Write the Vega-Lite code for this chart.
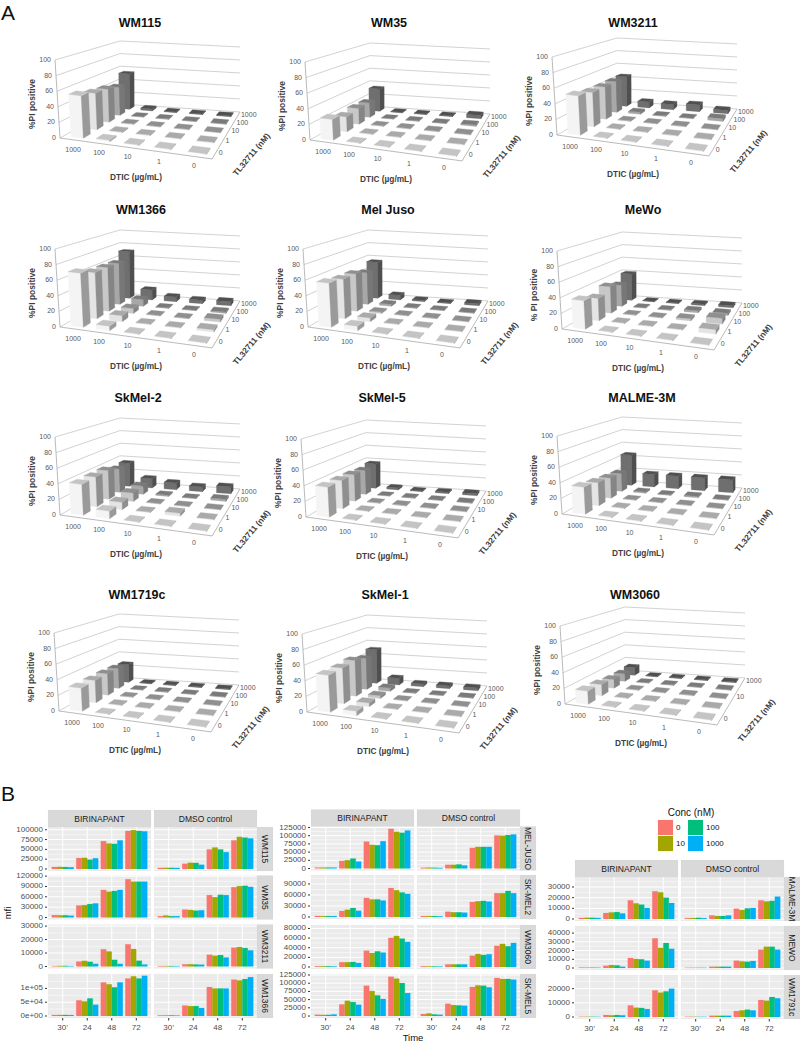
{"padding":0,"width":800,"height":1045,"config":{"font":"Liberation Sans","view":{"stroke":null}},
"data":{"values":[
{"cell":"WM115","dtic":1000,"tl":1000,"pi":54},{"cell":"WM115","dtic":100,"tl":1000,"pi":3},{"cell":"WM115","dtic":10,"tl":1000,"pi":1},{"cell":"WM115","dtic":1,"tl":1000,"pi":1},{"cell":"WM115","dtic":0,"tl":1000,"pi":1},
{"cell":"WM115","dtic":1000,"tl":100,"pi":41},{"cell":"WM115","dtic":100,"tl":100,"pi":1},{"cell":"WM115","dtic":10,"tl":100,"pi":1},{"cell":"WM115","dtic":1,"tl":100,"pi":1},{"cell":"WM115","dtic":0,"tl":100,"pi":1},
{"cell":"WM115","dtic":1000,"tl":10,"pi":46},{"cell":"WM115","dtic":100,"tl":10,"pi":1},{"cell":"WM115","dtic":10,"tl":10,"pi":1},{"cell":"WM115","dtic":1,"tl":10,"pi":1},{"cell":"WM115","dtic":0,"tl":10,"pi":1},
{"cell":"WM115","dtic":1000,"tl":1,"pi":49},{"cell":"WM115","dtic":100,"tl":1,"pi":1},{"cell":"WM115","dtic":10,"tl":1,"pi":1},{"cell":"WM115","dtic":1,"tl":1,"pi":1},{"cell":"WM115","dtic":0,"tl":1,"pi":1},
{"cell":"WM115","dtic":1000,"tl":0,"pi":55},{"cell":"WM115","dtic":100,"tl":0,"pi":2},{"cell":"WM115","dtic":10,"tl":0,"pi":1},{"cell":"WM115","dtic":1,"tl":0,"pi":1},{"cell":"WM115","dtic":0,"tl":0,"pi":1},
{"cell":"WM35","dtic":1000,"tl":1000,"pi":34},{"cell":"WM35","dtic":100,"tl":1000,"pi":1},{"cell":"WM35","dtic":10,"tl":1000,"pi":1},{"cell":"WM35","dtic":1,"tl":1000,"pi":1},{"cell":"WM35","dtic":0,"tl":1000,"pi":5},
{"cell":"WM35","dtic":1000,"tl":100,"pi":21},{"cell":"WM35","dtic":100,"tl":100,"pi":1},{"cell":"WM35","dtic":10,"tl":100,"pi":1},{"cell":"WM35","dtic":1,"tl":100,"pi":1},{"cell":"WM35","dtic":0,"tl":100,"pi":2},
{"cell":"WM35","dtic":1000,"tl":10,"pi":22},{"cell":"WM35","dtic":100,"tl":10,"pi":1},{"cell":"WM35","dtic":10,"tl":10,"pi":1},{"cell":"WM35","dtic":1,"tl":10,"pi":1},{"cell":"WM35","dtic":0,"tl":10,"pi":1},
{"cell":"WM35","dtic":1000,"tl":1,"pi":20},{"cell":"WM35","dtic":100,"tl":1,"pi":1},{"cell":"WM35","dtic":10,"tl":1,"pi":1},{"cell":"WM35","dtic":1,"tl":1,"pi":1},{"cell":"WM35","dtic":0,"tl":1,"pi":1},
{"cell":"WM35","dtic":1000,"tl":0,"pi":27},{"cell":"WM35","dtic":100,"tl":0,"pi":1},{"cell":"WM35","dtic":10,"tl":0,"pi":1},{"cell":"WM35","dtic":1,"tl":0,"pi":1},{"cell":"WM35","dtic":0,"tl":0,"pi":1},
{"cell":"WM3211","dtic":1000,"tl":1000,"pi":45},{"cell":"WM3211","dtic":100,"tl":1000,"pi":9},{"cell":"WM3211","dtic":10,"tl":1000,"pi":8},{"cell":"WM3211","dtic":1,"tl":1000,"pi":10},{"cell":"WM3211","dtic":0,"tl":1000,"pi":5},
{"cell":"WM3211","dtic":1000,"tl":100,"pi":45},{"cell":"WM3211","dtic":100,"tl":100,"pi":3},{"cell":"WM3211","dtic":10,"tl":100,"pi":1},{"cell":"WM3211","dtic":1,"tl":100,"pi":1},{"cell":"WM3211","dtic":0,"tl":100,"pi":4},
{"cell":"WM3211","dtic":1000,"tl":10,"pi":45},{"cell":"WM3211","dtic":100,"tl":10,"pi":1},{"cell":"WM3211","dtic":10,"tl":10,"pi":1},{"cell":"WM3211","dtic":1,"tl":10,"pi":1},{"cell":"WM3211","dtic":0,"tl":10,"pi":1},
{"cell":"WM3211","dtic":1000,"tl":1,"pi":46},{"cell":"WM3211","dtic":100,"tl":1,"pi":1},{"cell":"WM3211","dtic":10,"tl":1,"pi":1},{"cell":"WM3211","dtic":1,"tl":1,"pi":1},{"cell":"WM3211","dtic":0,"tl":1,"pi":1},
{"cell":"WM3211","dtic":1000,"tl":0,"pi":51},{"cell":"WM3211","dtic":100,"tl":0,"pi":1},{"cell":"WM3211","dtic":10,"tl":0,"pi":1},{"cell":"WM3211","dtic":1,"tl":0,"pi":1},{"cell":"WM3211","dtic":0,"tl":0,"pi":1},
{"cell":"WM1366","dtic":1000,"tl":1000,"pi":71},{"cell":"WM1366","dtic":100,"tl":1000,"pi":15},{"cell":"WM1366","dtic":10,"tl":1000,"pi":7},{"cell":"WM1366","dtic":1,"tl":1000,"pi":5},{"cell":"WM1366","dtic":0,"tl":1000,"pi":6},
{"cell":"WM1366","dtic":1000,"tl":100,"pi":60},{"cell":"WM1366","dtic":100,"tl":100,"pi":10},{"cell":"WM1366","dtic":10,"tl":100,"pi":1},{"cell":"WM1366","dtic":1,"tl":100,"pi":1},{"cell":"WM1366","dtic":0,"tl":100,"pi":2},
{"cell":"WM1366","dtic":1000,"tl":10,"pi":61},{"cell":"WM1366","dtic":100,"tl":10,"pi":7},{"cell":"WM1366","dtic":10,"tl":10,"pi":1},{"cell":"WM1366","dtic":1,"tl":10,"pi":1},{"cell":"WM1366","dtic":0,"tl":10,"pi":4},
{"cell":"WM1366","dtic":1000,"tl":1,"pi":62},{"cell":"WM1366","dtic":100,"tl":1,"pi":8},{"cell":"WM1366","dtic":10,"tl":1,"pi":1},{"cell":"WM1366","dtic":1,"tl":1,"pi":1},{"cell":"WM1366","dtic":0,"tl":1,"pi":3},
{"cell":"WM1366","dtic":1000,"tl":0,"pi":70},{"cell":"WM1366","dtic":100,"tl":0,"pi":6},{"cell":"WM1366","dtic":10,"tl":0,"pi":1},{"cell":"WM1366","dtic":1,"tl":0,"pi":1},{"cell":"WM1366","dtic":0,"tl":0,"pi":1},
{"cell":"Mel Juso","dtic":1000,"tl":1000,"pi":55},{"cell":"Mel Juso","dtic":100,"tl":1000,"pi":7},{"cell":"Mel Juso","dtic":10,"tl":1000,"pi":2},{"cell":"Mel Juso","dtic":1,"tl":1000,"pi":1},{"cell":"Mel Juso","dtic":0,"tl":1000,"pi":3},
{"cell":"Mel Juso","dtic":1000,"tl":100,"pi":46},{"cell":"Mel Juso","dtic":100,"tl":100,"pi":3},{"cell":"Mel Juso","dtic":10,"tl":100,"pi":1},{"cell":"Mel Juso","dtic":1,"tl":100,"pi":1},{"cell":"Mel Juso","dtic":0,"tl":100,"pi":1},
{"cell":"Mel Juso","dtic":1000,"tl":10,"pi":52},{"cell":"Mel Juso","dtic":100,"tl":10,"pi":2},{"cell":"Mel Juso","dtic":10,"tl":10,"pi":1},{"cell":"Mel Juso","dtic":1,"tl":10,"pi":1},{"cell":"Mel Juso","dtic":0,"tl":10,"pi":1},
{"cell":"Mel Juso","dtic":1000,"tl":1,"pi":53},{"cell":"Mel Juso","dtic":100,"tl":1,"pi":5},{"cell":"Mel Juso","dtic":10,"tl":1,"pi":1},{"cell":"Mel Juso","dtic":1,"tl":1,"pi":1},{"cell":"Mel Juso","dtic":0,"tl":1,"pi":1},
{"cell":"Mel Juso","dtic":1000,"tl":0,"pi":57},{"cell":"Mel Juso","dtic":100,"tl":0,"pi":6},{"cell":"Mel Juso","dtic":10,"tl":0,"pi":1},{"cell":"Mel Juso","dtic":1,"tl":0,"pi":1},{"cell":"Mel Juso","dtic":0,"tl":0,"pi":1},
{"cell":"MeWo","dtic":1000,"tl":1000,"pi":40},{"cell":"MeWo","dtic":100,"tl":1000,"pi":1},{"cell":"MeWo","dtic":10,"tl":1000,"pi":1},{"cell":"MeWo","dtic":1,"tl":1000,"pi":2},{"cell":"MeWo","dtic":0,"tl":1000,"pi":3},
{"cell":"MeWo","dtic":1000,"tl":100,"pi":31},{"cell":"MeWo","dtic":100,"tl":100,"pi":1},{"cell":"MeWo","dtic":10,"tl":100,"pi":1},{"cell":"MeWo","dtic":1,"tl":100,"pi":3},{"cell":"MeWo","dtic":0,"tl":100,"pi":3},
{"cell":"MeWo","dtic":1000,"tl":10,"pi":37},{"cell":"MeWo","dtic":100,"tl":10,"pi":1},{"cell":"MeWo","dtic":10,"tl":10,"pi":1},{"cell":"MeWo","dtic":1,"tl":10,"pi":3},{"cell":"MeWo","dtic":0,"tl":10,"pi":8},
{"cell":"MeWo","dtic":1000,"tl":1,"pi":30},{"cell":"MeWo","dtic":100,"tl":1,"pi":1},{"cell":"MeWo","dtic":10,"tl":1,"pi":1},{"cell":"MeWo","dtic":1,"tl":1,"pi":1},{"cell":"MeWo","dtic":0,"tl":1,"pi":6},
{"cell":"MeWo","dtic":1000,"tl":0,"pi":37},{"cell":"MeWo","dtic":100,"tl":0,"pi":1},{"cell":"MeWo","dtic":10,"tl":0,"pi":1},{"cell":"MeWo","dtic":1,"tl":0,"pi":1},{"cell":"MeWo","dtic":0,"tl":0,"pi":1},
{"cell":"SkMel-2","dtic":1000,"tl":1000,"pi":35},{"cell":"SkMel-2","dtic":100,"tl":1000,"pi":14},{"cell":"SkMel-2","dtic":10,"tl":1000,"pi":10},{"cell":"SkMel-2","dtic":1,"tl":1000,"pi":7},{"cell":"SkMel-2","dtic":0,"tl":1000,"pi":10},
{"cell":"SkMel-2","dtic":1000,"tl":100,"pi":34},{"cell":"SkMel-2","dtic":100,"tl":100,"pi":12},{"cell":"SkMel-2","dtic":10,"tl":100,"pi":2},{"cell":"SkMel-2","dtic":1,"tl":100,"pi":1},{"cell":"SkMel-2","dtic":0,"tl":100,"pi":3},
{"cell":"SkMel-2","dtic":1000,"tl":10,"pi":40},{"cell":"SkMel-2","dtic":100,"tl":10,"pi":12},{"cell":"SkMel-2","dtic":10,"tl":10,"pi":1},{"cell":"SkMel-2","dtic":1,"tl":10,"pi":1},{"cell":"SkMel-2","dtic":0,"tl":10,"pi":1},
{"cell":"SkMel-2","dtic":1000,"tl":1,"pi":40},{"cell":"SkMel-2","dtic":100,"tl":1,"pi":10},{"cell":"SkMel-2","dtic":10,"tl":1,"pi":1},{"cell":"SkMel-2","dtic":1,"tl":1,"pi":4},{"cell":"SkMel-2","dtic":0,"tl":1,"pi":1},
{"cell":"SkMel-2","dtic":1000,"tl":0,"pi":40},{"cell":"SkMel-2","dtic":100,"tl":0,"pi":10},{"cell":"SkMel-2","dtic":10,"tl":0,"pi":1},{"cell":"SkMel-2","dtic":1,"tl":0,"pi":1},{"cell":"SkMel-2","dtic":0,"tl":0,"pi":1},
{"cell":"SkMel-5","dtic":1000,"tl":1000,"pi":37},{"cell":"SkMel-5","dtic":100,"tl":1000,"pi":3},{"cell":"SkMel-5","dtic":10,"tl":1000,"pi":1},{"cell":"SkMel-5","dtic":1,"tl":1000,"pi":2},{"cell":"SkMel-5","dtic":0,"tl":1000,"pi":3},
{"cell":"SkMel-5","dtic":1000,"tl":100,"pi":35},{"cell":"SkMel-5","dtic":100,"tl":100,"pi":1},{"cell":"SkMel-5","dtic":10,"tl":100,"pi":1},{"cell":"SkMel-5","dtic":1,"tl":100,"pi":1},{"cell":"SkMel-5","dtic":0,"tl":100,"pi":1},
{"cell":"SkMel-5","dtic":1000,"tl":10,"pi":37},{"cell":"SkMel-5","dtic":100,"tl":10,"pi":1},{"cell":"SkMel-5","dtic":10,"tl":10,"pi":1},{"cell":"SkMel-5","dtic":1,"tl":10,"pi":1},{"cell":"SkMel-5","dtic":0,"tl":10,"pi":1},
{"cell":"SkMel-5","dtic":1000,"tl":1,"pi":38},{"cell":"SkMel-5","dtic":100,"tl":1,"pi":1},{"cell":"SkMel-5","dtic":10,"tl":1,"pi":1},{"cell":"SkMel-5","dtic":1,"tl":1,"pi":1},{"cell":"SkMel-5","dtic":0,"tl":1,"pi":1},
{"cell":"SkMel-5","dtic":1000,"tl":0,"pi":39},{"cell":"SkMel-5","dtic":100,"tl":0,"pi":1},{"cell":"SkMel-5","dtic":10,"tl":0,"pi":1},{"cell":"SkMel-5","dtic":1,"tl":0,"pi":1},{"cell":"SkMel-5","dtic":0,"tl":0,"pi":1},
{"cell":"MALME-3M","dtic":1000,"tl":1000,"pi":46},{"cell":"MALME-3M","dtic":100,"tl":1000,"pi":19},{"cell":"MALME-3M","dtic":10,"tl":1000,"pi":19},{"cell":"MALME-3M","dtic":1,"tl":1000,"pi":19},{"cell":"MALME-3M","dtic":0,"tl":1000,"pi":19},
{"cell":"MALME-3M","dtic":1000,"tl":100,"pi":26},{"cell":"MALME-3M","dtic":100,"tl":100,"pi":2},{"cell":"MALME-3M","dtic":10,"tl":100,"pi":1},{"cell":"MALME-3M","dtic":1,"tl":100,"pi":2},{"cell":"MALME-3M","dtic":0,"tl":100,"pi":1},
{"cell":"MALME-3M","dtic":1000,"tl":10,"pi":28},{"cell":"MALME-3M","dtic":100,"tl":10,"pi":1},{"cell":"MALME-3M","dtic":10,"tl":10,"pi":1},{"cell":"MALME-3M","dtic":1,"tl":10,"pi":1},{"cell":"MALME-3M","dtic":0,"tl":10,"pi":1},
{"cell":"MALME-3M","dtic":1000,"tl":1,"pi":31},{"cell":"MALME-3M","dtic":100,"tl":1,"pi":1},{"cell":"MALME-3M","dtic":10,"tl":1,"pi":1},{"cell":"MALME-3M","dtic":1,"tl":1,"pi":1},{"cell":"MALME-3M","dtic":0,"tl":1,"pi":1},
{"cell":"MALME-3M","dtic":1000,"tl":0,"pi":35},{"cell":"MALME-3M","dtic":100,"tl":0,"pi":1},{"cell":"MALME-3M","dtic":10,"tl":0,"pi":1},{"cell":"MALME-3M","dtic":1,"tl":0,"pi":1},{"cell":"MALME-3M","dtic":0,"tl":0,"pi":1},
{"cell":"WM1719c","dtic":1000,"tl":1000,"pi":27},{"cell":"WM1719c","dtic":100,"tl":1000,"pi":1},{"cell":"WM1719c","dtic":10,"tl":1000,"pi":1},{"cell":"WM1719c","dtic":1,"tl":1000,"pi":1},{"cell":"WM1719c","dtic":0,"tl":1000,"pi":1},
{"cell":"WM1719c","dtic":1000,"tl":100,"pi":29},{"cell":"WM1719c","dtic":100,"tl":100,"pi":1},{"cell":"WM1719c","dtic":10,"tl":100,"pi":1},{"cell":"WM1719c","dtic":1,"tl":100,"pi":1},{"cell":"WM1719c","dtic":0,"tl":100,"pi":1},
{"cell":"WM1719c","dtic":1000,"tl":10,"pi":30},{"cell":"WM1719c","dtic":100,"tl":10,"pi":1},{"cell":"WM1719c","dtic":10,"tl":10,"pi":1},{"cell":"WM1719c","dtic":1,"tl":10,"pi":1},{"cell":"WM1719c","dtic":0,"tl":10,"pi":1},
{"cell":"WM1719c","dtic":1000,"tl":1,"pi":30},{"cell":"WM1719c","dtic":100,"tl":1,"pi":1},{"cell":"WM1719c","dtic":10,"tl":1,"pi":1},{"cell":"WM1719c","dtic":1,"tl":1,"pi":1},{"cell":"WM1719c","dtic":0,"tl":1,"pi":1},
{"cell":"WM1719c","dtic":1000,"tl":0,"pi":30},{"cell":"WM1719c","dtic":100,"tl":0,"pi":1},{"cell":"WM1719c","dtic":10,"tl":0,"pi":1},{"cell":"WM1719c","dtic":1,"tl":0,"pi":1},{"cell":"WM1719c","dtic":0,"tl":0,"pi":1},
{"cell":"SkMel-1","dtic":1000,"tl":1000,"pi":51},{"cell":"SkMel-1","dtic":100,"tl":1000,"pi":10},{"cell":"SkMel-1","dtic":10,"tl":1000,"pi":4},{"cell":"SkMel-1","dtic":1,"tl":1000,"pi":4},{"cell":"SkMel-1","dtic":0,"tl":1000,"pi":4},
{"cell":"SkMel-1","dtic":1000,"tl":100,"pi":45},{"cell":"SkMel-1","dtic":100,"tl":100,"pi":5},{"cell":"SkMel-1","dtic":10,"tl":100,"pi":1},{"cell":"SkMel-1","dtic":1,"tl":100,"pi":1},{"cell":"SkMel-1","dtic":0,"tl":100,"pi":1},
{"cell":"SkMel-1","dtic":1000,"tl":10,"pi":50},{"cell":"SkMel-1","dtic":100,"tl":10,"pi":4},{"cell":"SkMel-1","dtic":10,"tl":10,"pi":1},{"cell":"SkMel-1","dtic":1,"tl":10,"pi":1},{"cell":"SkMel-1","dtic":0,"tl":10,"pi":1},
{"cell":"SkMel-1","dtic":1000,"tl":1,"pi":48},{"cell":"SkMel-1","dtic":100,"tl":1,"pi":5},{"cell":"SkMel-1","dtic":10,"tl":1,"pi":1},{"cell":"SkMel-1","dtic":1,"tl":1,"pi":1},{"cell":"SkMel-1","dtic":0,"tl":1,"pi":1},
{"cell":"SkMel-1","dtic":1000,"tl":0,"pi":48},{"cell":"SkMel-1","dtic":100,"tl":0,"pi":6},{"cell":"SkMel-1","dtic":10,"tl":0,"pi":1},{"cell":"SkMel-1","dtic":1,"tl":0,"pi":1},{"cell":"SkMel-1","dtic":0,"tl":0,"pi":1},
{"cell":"WM3060","dtic":1000,"tl":1000,"pi":12},{"cell":"WM3060","dtic":100,"tl":1000,"pi":1},{"cell":"WM3060","dtic":10,"tl":1000,"pi":1},{"cell":"WM3060","dtic":1,"tl":1000,"pi":1},{"cell":"WM3060","dtic":0,"tl":1000,"pi":1},
{"cell":"WM3060","dtic":1000,"tl":100,"pi":11},{"cell":"WM3060","dtic":100,"tl":100,"pi":1},{"cell":"WM3060","dtic":10,"tl":100,"pi":1},{"cell":"WM3060","dtic":1,"tl":100,"pi":1},{"cell":"WM3060","dtic":0,"tl":100,"pi":1},
{"cell":"WM3060","dtic":1000,"tl":10,"pi":12},{"cell":"WM3060","dtic":100,"tl":10,"pi":1},{"cell":"WM3060","dtic":10,"tl":10,"pi":1},{"cell":"WM3060","dtic":1,"tl":10,"pi":1},{"cell":"WM3060","dtic":0,"tl":10,"pi":1},
{"cell":"WM3060","dtic":1000,"tl":1,"pi":15},{"cell":"WM3060","dtic":100,"tl":1,"pi":1},{"cell":"WM3060","dtic":10,"tl":1,"pi":1},{"cell":"WM3060","dtic":1,"tl":1,"pi":1},{"cell":"WM3060","dtic":0,"tl":1,"pi":1},
{"cell":"WM3060","dtic":1000,"tl":0,"pi":17},{"cell":"WM3060","dtic":100,"tl":0,"pi":1},{"cell":"WM3060","dtic":10,"tl":0,"pi":1},{"cell":"WM3060","dtic":1,"tl":0,"pi":1},{"cell":"WM3060","dtic":0,"tl":0,"pi":1},
{"cell":"WM115","drug":"BIRINAPANT","hour":"30’","conc":0,"mfi":5200},{"cell":"WM115","drug":"BIRINAPANT","hour":"30’","conc":10,"mfi":5500},{"cell":"WM115","drug":"BIRINAPANT","hour":"30’","conc":100,"mfi":5000},{"cell":"WM115","drug":"BIRINAPANT","hour":"30’","conc":1000,"mfi":4500},
{"cell":"WM115","drug":"BIRINAPANT","hour":"24","conc":0,"mfi":28000},{"cell":"WM115","drug":"BIRINAPANT","hour":"24","conc":10,"mfi":28500},{"cell":"WM115","drug":"BIRINAPANT","hour":"24","conc":100,"mfi":24000},{"cell":"WM115","drug":"BIRINAPANT","hour":"24","conc":1000,"mfi":27500},
{"cell":"WM115","drug":"BIRINAPANT","hour":"48","conc":0,"mfi":71000},{"cell":"WM115","drug":"BIRINAPANT","hour":"48","conc":10,"mfi":65000},{"cell":"WM115","drug":"BIRINAPANT","hour":"48","conc":100,"mfi":64000},{"cell":"WM115","drug":"BIRINAPANT","hour":"48","conc":1000,"mfi":73000},
{"cell":"WM115","drug":"BIRINAPANT","hour":"72","conc":0,"mfi":97000},{"cell":"WM115","drug":"BIRINAPANT","hour":"72","conc":10,"mfi":99000},{"cell":"WM115","drug":"BIRINAPANT","hour":"72","conc":100,"mfi":97000},{"cell":"WM115","drug":"BIRINAPANT","hour":"72","conc":1000,"mfi":96000},
{"cell":"WM115","drug":"DMSO control","hour":"30’","conc":0,"mfi":3000},{"cell":"WM115","drug":"DMSO control","hour":"30’","conc":10,"mfi":3000},{"cell":"WM115","drug":"DMSO control","hour":"30’","conc":100,"mfi":3000},{"cell":"WM115","drug":"DMSO control","hour":"30’","conc":1000,"mfi":2800},
{"cell":"WM115","drug":"DMSO control","hour":"24","conc":0,"mfi":13500},{"cell":"WM115","drug":"DMSO control","hour":"24","conc":10,"mfi":16000},{"cell":"WM115","drug":"DMSO control","hour":"24","conc":100,"mfi":15500},{"cell":"WM115","drug":"DMSO control","hour":"24","conc":1000,"mfi":11000},
{"cell":"WM115","drug":"DMSO control","hour":"48","conc":0,"mfi":50000},{"cell":"WM115","drug":"DMSO control","hour":"48","conc":10,"mfi":55000},{"cell":"WM115","drug":"DMSO control","hour":"48","conc":100,"mfi":50000},{"cell":"WM115","drug":"DMSO control","hour":"48","conc":1000,"mfi":43000},
{"cell":"WM115","drug":"DMSO control","hour":"72","conc":0,"mfi":73000},{"cell":"WM115","drug":"DMSO control","hour":"72","conc":10,"mfi":82000},{"cell":"WM115","drug":"DMSO control","hour":"72","conc":100,"mfi":80000},{"cell":"WM115","drug":"DMSO control","hour":"72","conc":1000,"mfi":78000},
{"cell":"WM35","drug":"BIRINAPANT","hour":"30’","conc":0,"mfi":7000},{"cell":"WM35","drug":"BIRINAPANT","hour":"30’","conc":10,"mfi":6500},{"cell":"WM35","drug":"BIRINAPANT","hour":"30’","conc":100,"mfi":6500},{"cell":"WM35","drug":"BIRINAPANT","hour":"30’","conc":1000,"mfi":5500},
{"cell":"WM35","drug":"BIRINAPANT","hour":"24","conc":0,"mfi":35000},{"cell":"WM35","drug":"BIRINAPANT","hour":"24","conc":10,"mfi":36000},{"cell":"WM35","drug":"BIRINAPANT","hour":"24","conc":100,"mfi":39000},{"cell":"WM35","drug":"BIRINAPANT","hour":"24","conc":1000,"mfi":41000},
{"cell":"WM35","drug":"BIRINAPANT","hour":"48","conc":0,"mfi":80000},{"cell":"WM35","drug":"BIRINAPANT","hour":"48","conc":10,"mfi":75000},{"cell":"WM35","drug":"BIRINAPANT","hour":"48","conc":100,"mfi":77000},{"cell":"WM35","drug":"BIRINAPANT","hour":"48","conc":1000,"mfi":80000},
{"cell":"WM35","drug":"BIRINAPANT","hour":"72","conc":0,"mfi":111000},{"cell":"WM35","drug":"BIRINAPANT","hour":"72","conc":10,"mfi":104000},{"cell":"WM35","drug":"BIRINAPANT","hour":"72","conc":100,"mfi":104000},{"cell":"WM35","drug":"BIRINAPANT","hour":"72","conc":1000,"mfi":104000},
{"cell":"WM35","drug":"DMSO control","hour":"30’","conc":0,"mfi":4000},{"cell":"WM35","drug":"DMSO control","hour":"30’","conc":10,"mfi":6000},{"cell":"WM35","drug":"DMSO control","hour":"30’","conc":100,"mfi":4000},{"cell":"WM35","drug":"DMSO control","hour":"30’","conc":1000,"mfi":4000},
{"cell":"WM35","drug":"DMSO control","hour":"24","conc":0,"mfi":23000},{"cell":"WM35","drug":"DMSO control","hour":"24","conc":10,"mfi":22000},{"cell":"WM35","drug":"DMSO control","hour":"24","conc":100,"mfi":20000},{"cell":"WM35","drug":"DMSO control","hour":"24","conc":1000,"mfi":21000},
{"cell":"WM35","drug":"DMSO control","hour":"48","conc":0,"mfi":65000},{"cell":"WM35","drug":"DMSO control","hour":"48","conc":10,"mfi":59000},{"cell":"WM35","drug":"DMSO control","hour":"48","conc":100,"mfi":66000},{"cell":"WM35","drug":"DMSO control","hour":"48","conc":1000,"mfi":65000},
{"cell":"WM35","drug":"DMSO control","hour":"72","conc":0,"mfi":88000},{"cell":"WM35","drug":"DMSO control","hour":"72","conc":10,"mfi":91000},{"cell":"WM35","drug":"DMSO control","hour":"72","conc":100,"mfi":92000},{"cell":"WM35","drug":"DMSO control","hour":"72","conc":1000,"mfi":89000},
{"cell":"WM3211","drug":"BIRINAPANT","hour":"30’","conc":0,"mfi":300},{"cell":"WM3211","drug":"BIRINAPANT","hour":"30’","conc":10,"mfi":500},{"cell":"WM3211","drug":"BIRINAPANT","hour":"30’","conc":100,"mfi":500},{"cell":"WM3211","drug":"BIRINAPANT","hour":"30’","conc":1000,"mfi":300},
{"cell":"WM3211","drug":"BIRINAPANT","hour":"24","conc":0,"mfi":3700},{"cell":"WM3211","drug":"BIRINAPANT","hour":"24","conc":10,"mfi":4200},{"cell":"WM3211","drug":"BIRINAPANT","hour":"24","conc":100,"mfi":3500},{"cell":"WM3211","drug":"BIRINAPANT","hour":"24","conc":1000,"mfi":2000},
{"cell":"WM3211","drug":"BIRINAPANT","hour":"48","conc":0,"mfi":12800},{"cell":"WM3211","drug":"BIRINAPANT","hour":"48","conc":10,"mfi":11200},{"cell":"WM3211","drug":"BIRINAPANT","hour":"48","conc":100,"mfi":5000},{"cell":"WM3211","drug":"BIRINAPANT","hour":"48","conc":1000,"mfi":2000},
{"cell":"WM3211","drug":"BIRINAPANT","hour":"72","conc":0,"mfi":16500},{"cell":"WM3211","drug":"BIRINAPANT","hour":"72","conc":10,"mfi":13000},{"cell":"WM3211","drug":"BIRINAPANT","hour":"72","conc":100,"mfi":4300},{"cell":"WM3211","drug":"BIRINAPANT","hour":"72","conc":1000,"mfi":1500},
{"cell":"WM3211","drug":"DMSO control","hour":"30’","conc":0,"mfi":400},{"cell":"WM3211","drug":"DMSO control","hour":"30’","conc":10,"mfi":400},{"cell":"WM3211","drug":"DMSO control","hour":"30’","conc":100,"mfi":400},{"cell":"WM3211","drug":"DMSO control","hour":"30’","conc":1000,"mfi":300},
{"cell":"WM3211","drug":"DMSO control","hour":"24","conc":0,"mfi":1600},{"cell":"WM3211","drug":"DMSO control","hour":"24","conc":10,"mfi":1700},{"cell":"WM3211","drug":"DMSO control","hour":"24","conc":100,"mfi":1500},{"cell":"WM3211","drug":"DMSO control","hour":"24","conc":1000,"mfi":1400},
{"cell":"WM3211","drug":"DMSO control","hour":"48","conc":0,"mfi":8800},{"cell":"WM3211","drug":"DMSO control","hour":"48","conc":10,"mfi":8000},{"cell":"WM3211","drug":"DMSO control","hour":"48","conc":100,"mfi":8500},{"cell":"WM3211","drug":"DMSO control","hour":"48","conc":1000,"mfi":6700},
{"cell":"WM3211","drug":"DMSO control","hour":"72","conc":0,"mfi":14000},{"cell":"WM3211","drug":"DMSO control","hour":"72","conc":10,"mfi":14500},{"cell":"WM3211","drug":"DMSO control","hour":"72","conc":100,"mfi":13700},{"cell":"WM3211","drug":"DMSO control","hour":"72","conc":1000,"mfi":12000},
{"cell":"WM1366","drug":"BIRINAPANT","hour":"30’","conc":0,"mfi":4000},{"cell":"WM1366","drug":"BIRINAPANT","hour":"30’","conc":10,"mfi":4000},{"cell":"WM1366","drug":"BIRINAPANT","hour":"30’","conc":100,"mfi":4000},{"cell":"WM1366","drug":"BIRINAPANT","hour":"30’","conc":1000,"mfi":3500},
{"cell":"WM1366","drug":"BIRINAPANT","hour":"24","conc":0,"mfi":57000},{"cell":"WM1366","drug":"BIRINAPANT","hour":"24","conc":10,"mfi":53000},{"cell":"WM1366","drug":"BIRINAPANT","hour":"24","conc":100,"mfi":64000},{"cell":"WM1366","drug":"BIRINAPANT","hour":"24","conc":1000,"mfi":41000},
{"cell":"WM1366","drug":"BIRINAPANT","hour":"48","conc":0,"mfi":122000},{"cell":"WM1366","drug":"BIRINAPANT","hour":"48","conc":10,"mfi":115000},{"cell":"WM1366","drug":"BIRINAPANT","hour":"48","conc":100,"mfi":104000},{"cell":"WM1366","drug":"BIRINAPANT","hour":"48","conc":1000,"mfi":122000},
{"cell":"WM1366","drug":"BIRINAPANT","hour":"72","conc":0,"mfi":136000},{"cell":"WM1366","drug":"BIRINAPANT","hour":"72","conc":10,"mfi":144000},{"cell":"WM1366","drug":"BIRINAPANT","hour":"72","conc":100,"mfi":136000},{"cell":"WM1366","drug":"BIRINAPANT","hour":"72","conc":1000,"mfi":146000},
{"cell":"WM1366","drug":"DMSO control","hour":"30’","conc":0,"mfi":2500},{"cell":"WM1366","drug":"DMSO control","hour":"30’","conc":10,"mfi":2500},{"cell":"WM1366","drug":"DMSO control","hour":"30’","conc":100,"mfi":2500},{"cell":"WM1366","drug":"DMSO control","hour":"30’","conc":1000,"mfi":2000},
{"cell":"WM1366","drug":"DMSO control","hour":"24","conc":0,"mfi":38000},{"cell":"WM1366","drug":"DMSO control","hour":"24","conc":10,"mfi":36000},{"cell":"WM1366","drug":"DMSO control","hour":"24","conc":100,"mfi":36000},{"cell":"WM1366","drug":"DMSO control","hour":"24","conc":1000,"mfi":29000},
{"cell":"WM1366","drug":"DMSO control","hour":"48","conc":0,"mfi":105000},{"cell":"WM1366","drug":"DMSO control","hour":"48","conc":10,"mfi":100000},{"cell":"WM1366","drug":"DMSO control","hour":"48","conc":100,"mfi":100000},{"cell":"WM1366","drug":"DMSO control","hour":"48","conc":1000,"mfi":100000},
{"cell":"WM1366","drug":"DMSO control","hour":"72","conc":0,"mfi":132000},{"cell":"WM1366","drug":"DMSO control","hour":"72","conc":10,"mfi":129000},{"cell":"WM1366","drug":"DMSO control","hour":"72","conc":100,"mfi":134000},{"cell":"WM1366","drug":"DMSO control","hour":"72","conc":1000,"mfi":141000},
{"cell":"MEL-JUSO","drug":"BIRINAPANT","hour":"30’","conc":0,"mfi":3000},{"cell":"MEL-JUSO","drug":"BIRINAPANT","hour":"30’","conc":10,"mfi":3000},{"cell":"MEL-JUSO","drug":"BIRINAPANT","hour":"30’","conc":100,"mfi":3000},{"cell":"MEL-JUSO","drug":"BIRINAPANT","hour":"30’","conc":1000,"mfi":3000},
{"cell":"MEL-JUSO","drug":"BIRINAPANT","hour":"24","conc":0,"mfi":23400},{"cell":"MEL-JUSO","drug":"BIRINAPANT","hour":"24","conc":10,"mfi":25400},{"cell":"MEL-JUSO","drug":"BIRINAPANT","hour":"24","conc":100,"mfi":30500},{"cell":"MEL-JUSO","drug":"BIRINAPANT","hour":"24","conc":1000,"mfi":21300},
{"cell":"MEL-JUSO","drug":"BIRINAPANT","hour":"48","conc":0,"mfi":82300},{"cell":"MEL-JUSO","drug":"BIRINAPANT","hour":"48","conc":10,"mfi":72200},{"cell":"MEL-JUSO","drug":"BIRINAPANT","hour":"48","conc":100,"mfi":71100},{"cell":"MEL-JUSO","drug":"BIRINAPANT","hour":"48","conc":1000,"mfi":83300},
{"cell":"MEL-JUSO","drug":"BIRINAPANT","hour":"72","conc":0,"mfi":121000},{"cell":"MEL-JUSO","drug":"BIRINAPANT","hour":"72","conc":10,"mfi":112000},{"cell":"MEL-JUSO","drug":"BIRINAPANT","hour":"72","conc":100,"mfi":109000},{"cell":"MEL-JUSO","drug":"BIRINAPANT","hour":"72","conc":1000,"mfi":116000},
{"cell":"MEL-JUSO","drug":"DMSO control","hour":"30’","conc":0,"mfi":2500},{"cell":"MEL-JUSO","drug":"DMSO control","hour":"30’","conc":10,"mfi":3000},{"cell":"MEL-JUSO","drug":"DMSO control","hour":"30’","conc":100,"mfi":2500},{"cell":"MEL-JUSO","drug":"DMSO control","hour":"30’","conc":1000,"mfi":2000},
{"cell":"MEL-JUSO","drug":"DMSO control","hour":"24","conc":0,"mfi":11500},{"cell":"MEL-JUSO","drug":"DMSO control","hour":"24","conc":10,"mfi":11500},{"cell":"MEL-JUSO","drug":"DMSO control","hour":"24","conc":100,"mfi":12500},{"cell":"MEL-JUSO","drug":"DMSO control","hour":"24","conc":1000,"mfi":9500},
{"cell":"MEL-JUSO","drug":"DMSO control","hour":"48","conc":0,"mfi":63000},{"cell":"MEL-JUSO","drug":"DMSO control","hour":"48","conc":10,"mfi":66000},{"cell":"MEL-JUSO","drug":"DMSO control","hour":"48","conc":100,"mfi":66000},{"cell":"MEL-JUSO","drug":"DMSO control","hour":"48","conc":1000,"mfi":66000},
{"cell":"MEL-JUSO","drug":"DMSO control","hour":"72","conc":0,"mfi":101000},{"cell":"MEL-JUSO","drug":"DMSO control","hour":"72","conc":10,"mfi":100000},{"cell":"MEL-JUSO","drug":"DMSO control","hour":"72","conc":100,"mfi":102000},{"cell":"MEL-JUSO","drug":"DMSO control","hour":"72","conc":1000,"mfi":104000},
{"cell":"SK-MEL2","drug":"BIRINAPANT","hour":"30’","conc":0,"mfi":3000},{"cell":"SK-MEL2","drug":"BIRINAPANT","hour":"30’","conc":10,"mfi":2500},{"cell":"SK-MEL2","drug":"BIRINAPANT","hour":"30’","conc":100,"mfi":2500},{"cell":"SK-MEL2","drug":"BIRINAPANT","hour":"30’","conc":1000,"mfi":2500},
{"cell":"SK-MEL2","drug":"BIRINAPANT","hour":"24","conc":0,"mfi":16500},{"cell":"SK-MEL2","drug":"BIRINAPANT","hour":"24","conc":10,"mfi":20000},{"cell":"SK-MEL2","drug":"BIRINAPANT","hour":"24","conc":100,"mfi":24500},{"cell":"SK-MEL2","drug":"BIRINAPANT","hour":"24","conc":1000,"mfi":17000},
{"cell":"SK-MEL2","drug":"BIRINAPANT","hour":"48","conc":0,"mfi":52000},{"cell":"SK-MEL2","drug":"BIRINAPANT","hour":"48","conc":10,"mfi":48000},{"cell":"SK-MEL2","drug":"BIRINAPANT","hour":"48","conc":100,"mfi":48000},{"cell":"SK-MEL2","drug":"BIRINAPANT","hour":"48","conc":1000,"mfi":45000},
{"cell":"SK-MEL2","drug":"BIRINAPANT","hour":"72","conc":0,"mfi":79000},{"cell":"SK-MEL2","drug":"BIRINAPANT","hour":"72","conc":10,"mfi":73000},{"cell":"SK-MEL2","drug":"BIRINAPANT","hour":"72","conc":100,"mfi":67000},{"cell":"SK-MEL2","drug":"BIRINAPANT","hour":"72","conc":1000,"mfi":63000},
{"cell":"SK-MEL2","drug":"DMSO control","hour":"30’","conc":0,"mfi":2500},{"cell":"SK-MEL2","drug":"DMSO control","hour":"30’","conc":10,"mfi":2500},{"cell":"SK-MEL2","drug":"DMSO control","hour":"30’","conc":100,"mfi":2500},{"cell":"SK-MEL2","drug":"DMSO control","hour":"30’","conc":1000,"mfi":2000},
{"cell":"SK-MEL2","drug":"DMSO control","hour":"24","conc":0,"mfi":14500},{"cell":"SK-MEL2","drug":"DMSO control","hour":"24","conc":10,"mfi":13000},{"cell":"SK-MEL2","drug":"DMSO control","hour":"24","conc":100,"mfi":13000},{"cell":"SK-MEL2","drug":"DMSO control","hour":"24","conc":1000,"mfi":12000},
{"cell":"SK-MEL2","drug":"DMSO control","hour":"48","conc":0,"mfi":41000},{"cell":"SK-MEL2","drug":"DMSO control","hour":"48","conc":10,"mfi":43000},{"cell":"SK-MEL2","drug":"DMSO control","hour":"48","conc":100,"mfi":44000},{"cell":"SK-MEL2","drug":"DMSO control","hour":"48","conc":1000,"mfi":42000},
{"cell":"SK-MEL2","drug":"DMSO control","hour":"72","conc":0,"mfi":65000},{"cell":"SK-MEL2","drug":"DMSO control","hour":"72","conc":10,"mfi":65000},{"cell":"SK-MEL2","drug":"DMSO control","hour":"72","conc":100,"mfi":71000},{"cell":"SK-MEL2","drug":"DMSO control","hour":"72","conc":1000,"mfi":65000},
{"cell":"WM3060","drug":"BIRINAPANT","hour":"30’","conc":0,"mfi":1500},{"cell":"WM3060","drug":"BIRINAPANT","hour":"30’","conc":10,"mfi":1500},{"cell":"WM3060","drug":"BIRINAPANT","hour":"30’","conc":100,"mfi":1500},{"cell":"WM3060","drug":"BIRINAPANT","hour":"30’","conc":1000,"mfi":1200},
{"cell":"WM3060","drug":"BIRINAPANT","hour":"24","conc":0,"mfi":10000},{"cell":"WM3060","drug":"BIRINAPANT","hour":"24","conc":10,"mfi":10000},{"cell":"WM3060","drug":"BIRINAPANT","hour":"24","conc":100,"mfi":10500},{"cell":"WM3060","drug":"BIRINAPANT","hour":"24","conc":1000,"mfi":8500},
{"cell":"WM3060","drug":"BIRINAPANT","hour":"48","conc":0,"mfi":34000},{"cell":"WM3060","drug":"BIRINAPANT","hour":"48","conc":10,"mfi":29000},{"cell":"WM3060","drug":"BIRINAPANT","hour":"48","conc":100,"mfi":32500},{"cell":"WM3060","drug":"BIRINAPANT","hour":"48","conc":1000,"mfi":30000},
{"cell":"WM3060","drug":"BIRINAPANT","hour":"72","conc":0,"mfi":60500},{"cell":"WM3060","drug":"BIRINAPANT","hour":"72","conc":10,"mfi":64500},{"cell":"WM3060","drug":"BIRINAPANT","hour":"72","conc":100,"mfi":59000},{"cell":"WM3060","drug":"BIRINAPANT","hour":"72","conc":1000,"mfi":52000},
{"cell":"WM3060","drug":"DMSO control","hour":"30’","conc":0,"mfi":1500},{"cell":"WM3060","drug":"DMSO control","hour":"30’","conc":10,"mfi":1200},{"cell":"WM3060","drug":"DMSO control","hour":"30’","conc":100,"mfi":1200},{"cell":"WM3060","drug":"DMSO control","hour":"30’","conc":1000,"mfi":1000},
{"cell":"WM3060","drug":"DMSO control","hour":"24","conc":0,"mfi":5500},{"cell":"WM3060","drug":"DMSO control","hour":"24","conc":10,"mfi":5500},{"cell":"WM3060","drug":"DMSO control","hour":"24","conc":100,"mfi":5500},{"cell":"WM3060","drug":"DMSO control","hour":"24","conc":1000,"mfi":5500},
{"cell":"WM3060","drug":"DMSO control","hour":"48","conc":0,"mfi":23500},{"cell":"WM3060","drug":"DMSO control","hour":"48","conc":10,"mfi":27000},{"cell":"WM3060","drug":"DMSO control","hour":"48","conc":100,"mfi":25000},{"cell":"WM3060","drug":"DMSO control","hour":"48","conc":1000,"mfi":26500},
{"cell":"WM3060","drug":"DMSO control","hour":"72","conc":0,"mfi":44000},{"cell":"WM3060","drug":"DMSO control","hour":"72","conc":10,"mfi":48000},{"cell":"WM3060","drug":"DMSO control","hour":"72","conc":100,"mfi":43000},{"cell":"WM3060","drug":"DMSO control","hour":"72","conc":1000,"mfi":50000},
{"cell":"SK-MEL5","drug":"BIRINAPANT","hour":"30’","conc":0,"mfi":4000},{"cell":"SK-MEL5","drug":"BIRINAPANT","hour":"30’","conc":10,"mfi":3500},{"cell":"SK-MEL5","drug":"BIRINAPANT","hour":"30’","conc":100,"mfi":3500},{"cell":"SK-MEL5","drug":"BIRINAPANT","hour":"30’","conc":1000,"mfi":5000},
{"cell":"SK-MEL5","drug":"BIRINAPANT","hour":"24","conc":0,"mfi":35500},{"cell":"SK-MEL5","drug":"BIRINAPANT","hour":"24","conc":10,"mfi":46500},{"cell":"SK-MEL5","drug":"BIRINAPANT","hour":"24","conc":100,"mfi":42500},{"cell":"SK-MEL5","drug":"BIRINAPANT","hour":"24","conc":1000,"mfi":34500},
{"cell":"SK-MEL5","drug":"BIRINAPANT","hour":"48","conc":0,"mfi":92500},{"cell":"SK-MEL5","drug":"BIRINAPANT","hour":"48","conc":10,"mfi":76000},{"cell":"SK-MEL5","drug":"BIRINAPANT","hour":"48","conc":100,"mfi":63000},{"cell":"SK-MEL5","drug":"BIRINAPANT","hour":"48","conc":1000,"mfi":52000},
{"cell":"SK-MEL5","drug":"BIRINAPANT","hour":"72","conc":0,"mfi":120000},{"cell":"SK-MEL5","drug":"BIRINAPANT","hour":"72","conc":10,"mfi":114000},{"cell":"SK-MEL5","drug":"BIRINAPANT","hour":"72","conc":100,"mfi":100500},{"cell":"SK-MEL5","drug":"BIRINAPANT","hour":"72","conc":1000,"mfi":70000},
{"cell":"SK-MEL5","drug":"DMSO control","hour":"30’","conc":0,"mfi":6000},{"cell":"SK-MEL5","drug":"DMSO control","hour":"30’","conc":10,"mfi":8000},{"cell":"SK-MEL5","drug":"DMSO control","hour":"30’","conc":100,"mfi":5000},{"cell":"SK-MEL5","drug":"DMSO control","hour":"30’","conc":1000,"mfi":4000},
{"cell":"SK-MEL5","drug":"DMSO control","hour":"24","conc":0,"mfi":37500},{"cell":"SK-MEL5","drug":"DMSO control","hour":"24","conc":10,"mfi":33500},{"cell":"SK-MEL5","drug":"DMSO control","hour":"24","conc":100,"mfi":32500},{"cell":"SK-MEL5","drug":"DMSO control","hour":"24","conc":1000,"mfi":31500},
{"cell":"SK-MEL5","drug":"DMSO control","hour":"48","conc":0,"mfi":88500},{"cell":"SK-MEL5","drug":"DMSO control","hour":"48","conc":10,"mfi":93500},{"cell":"SK-MEL5","drug":"DMSO control","hour":"48","conc":100,"mfi":92500},{"cell":"SK-MEL5","drug":"DMSO control","hour":"48","conc":1000,"mfi":87500},
{"cell":"SK-MEL5","drug":"DMSO control","hour":"72","conc":0,"mfi":116000},{"cell":"SK-MEL5","drug":"DMSO control","hour":"72","conc":10,"mfi":113000},{"cell":"SK-MEL5","drug":"DMSO control","hour":"72","conc":100,"mfi":113000},{"cell":"SK-MEL5","drug":"DMSO control","hour":"72","conc":1000,"mfi":111000},
{"cell":"MALME-3M","drug":"BIRINAPANT","hour":"30’","conc":0,"mfi":1000},{"cell":"MALME-3M","drug":"BIRINAPANT","hour":"30’","conc":10,"mfi":1200},{"cell":"MALME-3M","drug":"BIRINAPANT","hour":"30’","conc":100,"mfi":1200},{"cell":"MALME-3M","drug":"BIRINAPANT","hour":"30’","conc":1000,"mfi":1000},
{"cell":"MALME-3M","drug":"BIRINAPANT","hour":"24","conc":0,"mfi":5600},{"cell":"MALME-3M","drug":"BIRINAPANT","hour":"24","conc":10,"mfi":6200},{"cell":"MALME-3M","drug":"BIRINAPANT","hour":"24","conc":100,"mfi":6500},{"cell":"MALME-3M","drug":"BIRINAPANT","hour":"24","conc":1000,"mfi":5300},
{"cell":"MALME-3M","drug":"BIRINAPANT","hour":"48","conc":0,"mfi":17500},{"cell":"MALME-3M","drug":"BIRINAPANT","hour":"48","conc":10,"mfi":14700},{"cell":"MALME-3M","drug":"BIRINAPANT","hour":"48","conc":100,"mfi":13500},{"cell":"MALME-3M","drug":"BIRINAPANT","hour":"48","conc":1000,"mfi":10300},
{"cell":"MALME-3M","drug":"BIRINAPANT","hour":"72","conc":0,"mfi":26000},{"cell":"MALME-3M","drug":"BIRINAPANT","hour":"72","conc":10,"mfi":25000},{"cell":"MALME-3M","drug":"BIRINAPANT","hour":"72","conc":100,"mfi":20000},{"cell":"MALME-3M","drug":"BIRINAPANT","hour":"72","conc":1000,"mfi":15000},
{"cell":"MALME-3M","drug":"DMSO control","hour":"30’","conc":0,"mfi":800},{"cell":"MALME-3M","drug":"DMSO control","hour":"30’","conc":10,"mfi":900},{"cell":"MALME-3M","drug":"DMSO control","hour":"30’","conc":100,"mfi":1100},{"cell":"MALME-3M","drug":"DMSO control","hour":"30’","conc":1000,"mfi":800},
{"cell":"MALME-3M","drug":"DMSO control","hour":"24","conc":0,"mfi":3400},{"cell":"MALME-3M","drug":"DMSO control","hour":"24","conc":10,"mfi":2800},{"cell":"MALME-3M","drug":"DMSO control","hour":"24","conc":100,"mfi":2800},{"cell":"MALME-3M","drug":"DMSO control","hour":"24","conc":1000,"mfi":3400},
{"cell":"MALME-3M","drug":"DMSO control","hour":"48","conc":0,"mfi":9700},{"cell":"MALME-3M","drug":"DMSO control","hour":"48","conc":10,"mfi":8400},{"cell":"MALME-3M","drug":"DMSO control","hour":"48","conc":100,"mfi":10000},{"cell":"MALME-3M","drug":"DMSO control","hour":"48","conc":1000,"mfi":10300},
{"cell":"MALME-3M","drug":"DMSO control","hour":"72","conc":0,"mfi":17500},{"cell":"MALME-3M","drug":"DMSO control","hour":"72","conc":10,"mfi":16500},{"cell":"MALME-3M","drug":"DMSO control","hour":"72","conc":100,"mfi":17000},{"cell":"MALME-3M","drug":"DMSO control","hour":"72","conc":1000,"mfi":21000},
{"cell":"MEWO","drug":"BIRINAPANT","hour":"30’","conc":0,"mfi":600},{"cell":"MEWO","drug":"BIRINAPANT","hour":"30’","conc":10,"mfi":500},{"cell":"MEWO","drug":"BIRINAPANT","hour":"30’","conc":100,"mfi":500},{"cell":"MEWO","drug":"BIRINAPANT","hour":"30’","conc":1000,"mfi":400},
{"cell":"MEWO","drug":"BIRINAPANT","hour":"24","conc":0,"mfi":2600},{"cell":"MEWO","drug":"BIRINAPANT","hour":"24","conc":10,"mfi":3400},{"cell":"MEWO","drug":"BIRINAPANT","hour":"24","conc":100,"mfi":3000},{"cell":"MEWO","drug":"BIRINAPANT","hour":"24","conc":1000,"mfi":1500},
{"cell":"MEWO","drug":"BIRINAPANT","hour":"48","conc":0,"mfi":11500},{"cell":"MEWO","drug":"BIRINAPANT","hour":"48","conc":10,"mfi":10300},{"cell":"MEWO","drug":"BIRINAPANT","hour":"48","conc":100,"mfi":10000},{"cell":"MEWO","drug":"BIRINAPANT","hour":"48","conc":1000,"mfi":8400},
{"cell":"MEWO","drug":"BIRINAPANT","hour":"72","conc":0,"mfi":34000},{"cell":"MEWO","drug":"BIRINAPANT","hour":"72","conc":10,"mfi":23000},{"cell":"MEWO","drug":"BIRINAPANT","hour":"72","conc":100,"mfi":28600},{"cell":"MEWO","drug":"BIRINAPANT","hour":"72","conc":1000,"mfi":22000},
{"cell":"MEWO","drug":"DMSO control","hour":"30’","conc":0,"mfi":300},{"cell":"MEWO","drug":"DMSO control","hour":"30’","conc":10,"mfi":300},{"cell":"MEWO","drug":"DMSO control","hour":"30’","conc":100,"mfi":300},{"cell":"MEWO","drug":"DMSO control","hour":"30’","conc":1000,"mfi":300},
{"cell":"MEWO","drug":"DMSO control","hour":"24","conc":0,"mfi":1500},{"cell":"MEWO","drug":"DMSO control","hour":"24","conc":10,"mfi":1500},{"cell":"MEWO","drug":"DMSO control","hour":"24","conc":100,"mfi":1500},{"cell":"MEWO","drug":"DMSO control","hour":"24","conc":1000,"mfi":1500},
{"cell":"MEWO","drug":"DMSO control","hour":"48","conc":0,"mfi":8400},{"cell":"MEWO","drug":"DMSO control","hour":"48","conc":10,"mfi":7600},{"cell":"MEWO","drug":"DMSO control","hour":"48","conc":100,"mfi":7200},{"cell":"MEWO","drug":"DMSO control","hour":"48","conc":1000,"mfi":8000},
{"cell":"MEWO","drug":"DMSO control","hour":"72","conc":0,"mfi":21000},{"cell":"MEWO","drug":"DMSO control","hour":"72","conc":10,"mfi":24400},{"cell":"MEWO","drug":"DMSO control","hour":"72","conc":100,"mfi":24400},{"cell":"MEWO","drug":"DMSO control","hour":"72","conc":1000,"mfi":21000},
{"cell":"WM1791c","drug":"BIRINAPANT","hour":"30’","conc":0,"mfi":200},{"cell":"WM1791c","drug":"BIRINAPANT","hour":"30’","conc":10,"mfi":200},{"cell":"WM1791c","drug":"BIRINAPANT","hour":"30’","conc":100,"mfi":200},{"cell":"WM1791c","drug":"BIRINAPANT","hour":"30’","conc":1000,"mfi":150},
{"cell":"WM1791c","drug":"BIRINAPANT","hour":"24","conc":0,"mfi":1400},{"cell":"WM1791c","drug":"BIRINAPANT","hour":"24","conc":10,"mfi":1200},{"cell":"WM1791c","drug":"BIRINAPANT","hour":"24","conc":100,"mfi":1400},{"cell":"WM1791c","drug":"BIRINAPANT","hour":"24","conc":1000,"mfi":1200},
{"cell":"WM1791c","drug":"BIRINAPANT","hour":"48","conc":0,"mfi":8200},{"cell":"WM1791c","drug":"BIRINAPANT","hour":"48","conc":10,"mfi":6600},{"cell":"WM1791c","drug":"BIRINAPANT","hour":"48","conc":100,"mfi":6400},{"cell":"WM1791c","drug":"BIRINAPANT","hour":"48","conc":1000,"mfi":5600},
{"cell":"WM1791c","drug":"BIRINAPANT","hour":"72","conc":0,"mfi":18800},{"cell":"WM1791c","drug":"BIRINAPANT","hour":"72","conc":10,"mfi":17200},{"cell":"WM1791c","drug":"BIRINAPANT","hour":"72","conc":100,"mfi":18100},{"cell":"WM1791c","drug":"BIRINAPANT","hour":"72","conc":1000,"mfi":20000},
{"cell":"WM1791c","drug":"DMSO control","hour":"30’","conc":0,"mfi":200},{"cell":"WM1791c","drug":"DMSO control","hour":"30’","conc":10,"mfi":200},{"cell":"WM1791c","drug":"DMSO control","hour":"30’","conc":100,"mfi":150},{"cell":"WM1791c","drug":"DMSO control","hour":"30’","conc":1000,"mfi":150},
{"cell":"WM1791c","drug":"DMSO control","hour":"24","conc":0,"mfi":900},{"cell":"WM1791c","drug":"DMSO control","hour":"24","conc":10,"mfi":900},{"cell":"WM1791c","drug":"DMSO control","hour":"24","conc":100,"mfi":900},{"cell":"WM1791c","drug":"DMSO control","hour":"24","conc":1000,"mfi":900},
{"cell":"WM1791c","drug":"DMSO control","hour":"48","conc":0,"mfi":4200},{"cell":"WM1791c","drug":"DMSO control","hour":"48","conc":10,"mfi":4700},{"cell":"WM1791c","drug":"DMSO control","hour":"48","conc":100,"mfi":5200},{"cell":"WM1791c","drug":"DMSO control","hour":"48","conc":1000,"mfi":4700},
{"cell":"WM1791c","drug":"DMSO control","hour":"72","conc":0,"mfi":12000},{"cell":"WM1791c","drug":"DMSO control","hour":"72","conc":10,"mfi":11500},{"cell":"WM1791c","drug":"DMSO control","hour":"72","conc":100,"mfi":14100},{"cell":"WM1791c","drug":"DMSO control","hour":"72","conc":1000,"mfi":13200}
]},
"transform":[
{"calculate":"isValid(datum.pi)","as":"isa"},
{"calculate":"indexof([1000,100,10,1,0],datum.dtic)","as":"i"},
{"calculate":"indexof([0,1,10,100,1000],datum.tl)","as":"j"},
{"calculate":"{'WM115':0,'WM35':250,'WM3211':497,'WM1366':0,'Mel Juso':248,'MeWo':502,'SkMel-2':0,'SkMel-5':246,'MALME-3M':502,'WM1719c':-1,'SkMel-1':247,'WM3060':505}[datum.cell]","as":"ox"},
{"calculate":"{'WM115':0,'WM35':2,'WM3211':-3,'WM1366':189,'Mel Juso':189,'MeWo':191,'SkMel-2':377,'SkMel-5':379,'MALME-3M':376,'WM1719c':573,'SkMel-1':574,'WM3060':566}[datum.cell]","as":"oy"},
{"calculate":"indexof(['30’','24','48','72'],datum.hour)","as":"ti"},
{"calculate":"indexof([0,10,100,1000],datum.conc)","as":"ci"},
{"calculate":"datum.drug=='BIRINAPANT'?0:4.32","as":"off"},
{"calculate":"{'WM115':48,'WM35':48,'WM3211':48,'WM1366':48,'MEL-JUSO':311,'SK-MEL2':311,'WM3060':311,'SK-MEL5':311,'MALME-3M':575,'MEWO':575,'WM1791c':575}[datum.cell]","as":"pl"},
{"calculate":"{'WM115':827,'WM35':875.5,'WM3211':924.5,'WM1366':974,'MEL-JUSO':826.5,'SK-MEL2':875,'WM3060':925,'SK-MEL5':974,'MALME-3M':877,'MEWO':926,'WM1791c':975}[datum.cell]","as":"pt"},
{"calculate":"{'WM115':101900,'WM35':116000,'WM3211':29700,'WM1366':145000,'MEL-JUSO':122000,'SK-MEL2':109000,'WM3060':83000,'SK-MEL5':122000,'MALME-3M':37500,'MEWO':45800,'WM1791c':28200}[datum.cell]","as":"ymax"},
{"calculate":"{'WM115':[0,25000,50000,75000,100000],'WM35':[0,30000,60000,90000,120000],'WM3211':[0,10000,20000,30000],'WM1366':[0,50000,100000],'MEL-JUSO':[0,25000,50000,75000,100000,125000],'SK-MEL2':[0,30000,60000,90000],'WM3060':[0,20000,40000,60000,80000],'SK-MEL5':[0,25000,50000,75000,100000,125000],'MALME-3M':[0,10000,20000,30000],'MEWO':[0,10000,20000,30000,40000],'WM1791c':[0,10000,20000]}[datum.cell]","as":"ticks"},
{"calculate":"!datum.isa&&datum.ti==0&&datum.ci==0","as":"p2"},
{"calculate":"datum.p2&&datum.off==0","as":"p1"}
],
"encoding":{"x":{"field":"px","type":"quantitative","scale":{"domain":[0,800],"nice":false,"zero":false},"axis":null},"y":{"field":"py","type":"quantitative","scale":{"domain":[1045,0],"nice":false,"zero":false},"axis":null}},
"layer":[
{"transform":[{"filter":"datum.i==0&&datum.j==0"},{"calculate":"[0,20,40,60,80,100]","as":"lv"},{"flatten":["lv"]},{"calculate":"[0,1,2]","as":"k"},{"flatten":["k"]},{"calculate":"datum.cell+'_'+datum.lv","as":"bid"},{"calculate":"[0,0,1][datum.k]","as":"u"},{"calculate":"[0,1,1][datum.k]","as":"v"},{"calculate":"datum.lv","as":"val"},{"calculate":"1-0.2224*datum.u+0.3186*datum.v","as":"w"},{"calculate":"(104.9*datum.u+98.2*datum.v+60)/datum.w+datum.ox-5*datum.val/100*(1-datum.u)*(1-datum.v)","as":"px"},{"calculate":"(-14.4*datum.u-0.87*datum.v+138)/datum.w+datum.oy-datum.val/100*(78-15*datum.v+2*datum.u*datum.v)","as":"py"}],
"mark":{"type":"line","stroke":"#c6c6c6","strokeWidth":0.8},"encoding":{"detail":{"field":"bid"},"order":{"field":"k"}}},
{"transform":[{"filter":"datum.i==0&&datum.j==0"},{"calculate":"[0,1,2,3]","as":"k"},{"flatten":["k"]},{"calculate":"[0,0,1,1][datum.k]","as":"u"},{"calculate":"[0,0,0,1][datum.k]","as":"v"},{"calculate":"[100,0,0,0][datum.k]","as":"val"},{"calculate":"1-0.2224*datum.u+0.3186*datum.v","as":"w"},{"calculate":"(104.9*datum.u+98.2*datum.v+60)/datum.w+datum.ox-5*datum.val/100*(1-datum.u)*(1-datum.v)","as":"px"},{"calculate":"(-14.4*datum.u-0.87*datum.v+138)/datum.w+datum.oy-datum.val/100*(78-15*datum.v+2*datum.u*datum.v)","as":"py"}],
"mark":{"type":"line","stroke":"#a8a8a8","strokeWidth":0.8},"encoding":{"detail":{"field":"cell"},"order":{"field":"k"}}},
{"transform":[{"filter":"datum.isa"},{"calculate":"[0,1,2,3,4,5,6,7,8,9,10,11]","as":"k"},{"flatten":["k"]},{"calculate":"(datum.i+0.55)/5-0.05+0.1*[0,1,1,0,1,1,1,1,0,1,1,0][datum.k]","as":"u"},{"calculate":"(datum.j+0.5)/5-0.05+0.1*[0,0,0,0,0,1,1,0,0,0,1,1][datum.k]","as":"v"},{"calculate":"datum.pi*[0,0,1,1,0,0,1,1,1,1,1,1][datum.k]","as":"val"},{"calculate":"floor(datum.k/4)","as":"face"},{"calculate":"[['#f4f4f4','#e4e4e4','#c8c8c8','#a8a8a8','#6f6f6f'],['#9a9a9a','#8f8f8f','#858585','#777777','#4f4f4f'],['#c4c4c4','#aaaaaa','#8f8f8f','#7a7a7a','#505050']][datum.face][datum.j]","as":"shade"},{"calculate":"datum.cell+'_'+datum.i+'_'+datum.j+'_'+datum.face","as":"bid"},{"calculate":"1-0.2224*datum.u+0.3186*datum.v","as":"w"},{"calculate":"(104.9*datum.u+98.2*datum.v+60)/datum.w+datum.ox-5*datum.val/100*(1-datum.u)*(1-datum.v)","as":"px"},{"calculate":"(-14.4*datum.u-0.87*datum.v+138)/datum.w+datum.oy-datum.val/100*(78-15*datum.v+2*datum.u*datum.v)","as":"py"}],
"mark":{"type":"line","interpolate":"linear-closed","strokeWidth":0.3},"encoding":{"detail":{"field":"bid"},"order":{"field":"k"},"fill":{"field":"shade","type":"nominal","scale":null},"stroke":{"field":"shade","type":"nominal","scale":null}}},
{"transform":[{"filter":"datum.i==0&&datum.j==0"},{"calculate":"[0,20,40,60,80,100]","as":"lv"},{"flatten":["lv"]},{"calculate":"138+datum.oy-datum.lv/100*78","as":"py"},{"calculate":"60+datum.ox-5*datum.lv/100","as":"px"}],
"mark":{"type":"text","align":"right","baseline":"middle","dx":-4,"fontSize":7,"fill":"#595959"},"encoding":{"text":{"field":"lv"}}},
{"transform":[{"filter":"datum.j==0"},{"calculate":"(datum.i+0.5)/5","as":"u"},{"calculate":"1-0.2224*datum.u","as":"w"},{"calculate":"(104.9*datum.u+60)/datum.w+datum.ox","as":"px"},{"calculate":"(-14.4*datum.u+138)/datum.w+datum.oy","as":"py"}],
"mark":{"type":"text","align":"center","baseline":"middle","dx":1,"dy":10,"fontSize":7,"fill":"#595959"},"encoding":{"text":{"field":"dtic"}}},
{"transform":[{"filter":"datum.i==0&&(datum.cell!='WM3060'||datum.tl!=1&&datum.tl!=100)"},{"calculate":"(datum.j+0.5)/5","as":"v"},{"calculate":"0.7776+0.3186*datum.v","as":"w"},{"calculate":"(104.9+98.2*datum.v+60)/datum.w+datum.ox","as":"px"},{"calculate":"(-14.4-0.87*datum.v+138)/datum.w+datum.oy","as":"py"}],
"mark":{"type":"text","align":"left","baseline":"middle","dx":3,"fontSize":7,"fill":"#595959"},"encoding":{"text":{"field":"tl"}}},
{"transform":[{"filter":"datum.i==0&&datum.j==0"},{"calculate":"32+datum.ox","as":"px"},{"calculate":"104+datum.oy","as":"py"},{"calculate":"datum.cell=='MeWo'?'% PI positive':'%PI positive'","as":"lab"}],
"mark":{"type":"text","angle":270,"align":"center","baseline":"middle","fontSize":8.5,"fontWeight":"bold","fill":"#404040"},"encoding":{"text":{"field":"lab"}}},
{"transform":[{"filter":"datum.i==0&&datum.j==0"},{"calculate":"136+datum.ox","as":"px"},{"calculate":"178+datum.oy","as":"py"},{"calculate":"'DTIC (µg/mL)'","as":"lab"}],
"mark":{"type":"text","align":"center","baseline":"middle","fontSize":8.3,"fontWeight":"bold","fill":"#404040"},"encoding":{"text":{"field":"lab"}}},
{"transform":[{"filter":"datum.i==0&&datum.j==0"},{"calculate":"252+datum.ox","as":"px"},{"calculate":"155+datum.oy","as":"py"},{"calculate":"'TL32711 (nM)'","as":"lab"}],
"mark":{"type":"text","angle":310,"align":"center","baseline":"middle","fontSize":8.3,"fontWeight":"bold","fill":"#404040"},"encoding":{"text":{"field":"lab"}}},
{"transform":[{"filter":"datum.i==0&&datum.j==0"},{"calculate":"{'WM115':140,'WM35':389,'WM3211':633,'WM1366':141,'Mel Juso':388,'MeWo':643,'SkMel-2':138,'SkMel-5':382,'MALME-3M':642,'WM1719c':137,'SkMel-1':385,'WM3060':635}[datum.cell]","as":"px"},{"calculate":"{'WM115':23,'WM35':23,'WM3211':23,'WM1366':210,'Mel Juso':210,'MeWo':210,'SkMel-2':398,'SkMel-5':398,'MALME-3M':398,'WM1719c':595,'SkMel-1':595,'WM3060':595}[datum.cell]","as":"py"}],
"mark":{"type":"text","align":"center","baseline":"middle","fontSize":12.5,"fontWeight":"bold","fill":"#111111"},"encoding":{"text":{"field":"cell"}}},
{"transform":[{"filter":"datum.i==0&&datum.j==0&&datum.cell=='WM115'"},{"calculate":"1","as":"px"},{"calculate":"20","as":"py"},{"calculate":"'A'","as":"lab"}],
"mark":{"type":"text","align":"left","baseline":"alphabetic","fontSize":21,"fill":"#111111"},"encoding":{"text":{"field":"lab"}}},
{"transform":[{"filter":"datum.p2"},{"calculate":"[0,1,2,3]","as":"k"},{"flatten":["k"]},{"calculate":"datum.cell+datum.drug","as":"bid"},{"calculate":"'#ebebeb'","as":"shade"},{"calculate":"datum.pl+24.53*(datum.off+4.2*[0,1,1,0][datum.k])","as":"px"},{"calculate":"datum.pt+44*[0,0,1,1][datum.k]","as":"py"}],
"mark":{"type":"line","interpolate":"linear-closed","strokeWidth":0.1},"encoding":{"detail":{"field":"bid"},"order":{"field":"k"},"fill":{"field":"shade","type":"nominal","scale":null},"stroke":{"field":"shade","type":"nominal","scale":null}}},
{"transform":[{"filter":"datum.p2"},{"calculate":"{'WM115':[12500,37500,62500,87500],'WM35':[15000,45000,75000,105000],'WM3211':[5000,15000,25000],'WM1366':[25000,75000,125000],'MEL-JUSO':[12500,37500,62500,87500,112500],'SK-MEL2':[15000,45000,75000,105000],'WM3060':[10000,30000,50000,70000],'SK-MEL5':[12500,37500,62500,87500,112500],'MALME-3M':[5000,15000,25000,35000],'MEWO':[5000,15000,25000,35000],'WM1791c':[5000,15000,25000]}[datum.cell]","as":"mid"},{"flatten":["mid"]},{"calculate":"[0,1]","as":"k"},{"flatten":["k"]},{"calculate":"datum.cell+datum.drug+datum.mid","as":"bid"},{"calculate":"datum.pl+24.53*(datum.off+4.2*datum.k)","as":"px"},{"calculate":"datum.pt+44*(1.05-datum.mid/datum.ymax)/1.1","as":"py"}],
"mark":{"type":"line","stroke":"#ffffff","strokeWidth":0.5},"encoding":{"detail":{"field":"bid"},"order":{"field":"k"}}},
{"transform":[{"filter":"datum.p2"},{"flatten":["ticks"],"as":["tick"]},{"calculate":"[0,1]","as":"k"},{"flatten":["k"]},{"calculate":"datum.cell+datum.drug+datum.tick","as":"bid"},{"calculate":"datum.pl+24.53*(datum.off+4.2*datum.k)","as":"px"},{"calculate":"datum.pt+44*(1.05-datum.tick/datum.ymax)/1.1","as":"py"}],
"mark":{"type":"line","stroke":"#ffffff","strokeWidth":1},"encoding":{"detail":{"field":"bid"},"order":{"field":"k"}}},
{"transform":[{"filter":"!datum.isa&&datum.ci==0"},{"calculate":"[0,1]","as":"k"},{"flatten":["k"]},{"calculate":"datum.cell+datum.drug+datum.hour","as":"bid"},{"calculate":"datum.pl+24.53*(datum.off+0.6+datum.ti)","as":"px"},{"calculate":"datum.pt+44*datum.k","as":"py"}],
"mark":{"type":"line","stroke":"#ffffff","strokeWidth":1},"encoding":{"detail":{"field":"bid"},"order":{"field":"k"}}},
{"transform":[{"filter":"!datum.isa"},{"calculate":"[0,1,2,3]","as":"k"},{"flatten":["k"]},{"calculate":"datum.cell+datum.drug+datum.hour+datum.conc","as":"bid"},{"calculate":"['#F8766D','#A3A500','#00BF7D','#00B0F6'][datum.ci]","as":"shade"},{"calculate":"datum.pl+24.53*(datum.off+0.6+datum.ti+(datum.ci-2+[0,1,1,0][datum.k])*0.225)","as":"px"},{"calculate":"datum.pt+44*(1.05-datum.mfi/datum.ymax*[1,1,0,0][datum.k])/1.1","as":"py"}],
"mark":{"type":"line","interpolate":"linear-closed","strokeWidth":0.1},"encoding":{"detail":{"field":"bid"},"order":{"field":"k"},"fill":{"field":"shade","type":"nominal","scale":null},"stroke":{"field":"shade","type":"nominal","scale":null}}},
{"transform":[{"filter":"datum.p1"},{"flatten":["ticks"],"as":["tick"]},{"calculate":"[0,1]","as":"k"},{"flatten":["k"]},{"calculate":"datum.cell+datum.tick","as":"bid"},{"calculate":"datum.pl-3+2*datum.k","as":"px"},{"calculate":"datum.pt+44*(1.05-datum.tick/datum.ymax)/1.1","as":"py"}],
"mark":{"type":"line","stroke":"#333333","strokeWidth":1},"encoding":{"detail":{"field":"bid"},"order":{"field":"k"}}},
{"transform":[{"filter":"datum.p1"},{"flatten":["ticks"],"as":["tick"]},{"calculate":"datum.cell=='WM1366'?(datum.tick==0?'0e+00':datum.tick==50000?'5e+04':'1e+05'):''+datum.tick","as":"lab"},{"calculate":"datum.pl-5","as":"px"},{"calculate":"datum.pt+44*(1.05-datum.tick/datum.ymax)/1.1","as":"py"}],
"mark":{"type":"text","align":"right","baseline":"middle","fontSize":8,"fill":"#4d4d4d"},"encoding":{"text":{"field":"lab"}}},
{"transform":[{"filter":"!datum.isa&&datum.ci==0&&indexof(['WM1366','SK-MEL5','WM1791c'],datum.cell)>=0"},{"calculate":"[0,1]","as":"k"},{"flatten":["k"]},{"calculate":"datum.cell+datum.drug+datum.hour","as":"bid"},{"calculate":"datum.pl+24.53*(datum.off+0.6+datum.ti)","as":"px"},{"calculate":"datum.pt+44+2.5*datum.k","as":"py"}],
"mark":{"type":"line","stroke":"#333333","strokeWidth":1},"encoding":{"detail":{"field":"bid"},"order":{"field":"k"}}},
{"transform":[{"filter":"!datum.isa&&datum.ci==0&&indexof(['WM1366','SK-MEL5','WM1791c'],datum.cell)>=0"},{"calculate":"datum.pl+24.53*(datum.off+0.6+datum.ti)","as":"px"},{"calculate":"datum.pt+54","as":"py"}],
"mark":{"type":"text","align":"center","baseline":"middle","fontSize":8,"fill":"#4d4d4d"},"encoding":{"text":{"field":"hour"}}},
{"transform":[{"filter":"datum.p1"},{"calculate":"[0,1,2,3]","as":"k"},{"flatten":["k"]},{"calculate":"'#d9d9d9'","as":"shade"},{"calculate":"datum.pl+209+16*[0,1,1,0][datum.k]","as":"px"},{"calculate":"datum.pt+44*[0,0,1,1][datum.k]","as":"py"}],
"mark":{"type":"line","interpolate":"linear-closed","strokeWidth":0.1},"encoding":{"detail":{"field":"cell"},"order":{"field":"k"},"fill":{"field":"shade","type":"nominal","scale":null},"stroke":{"field":"shade","type":"nominal","scale":null}}},
{"transform":[{"filter":"datum.p1"},{"calculate":"datum.pl+217","as":"px"},{"calculate":"datum.pt+22","as":"py"}],
"mark":{"type":"text","angle":90,"align":"center","baseline":"middle","fontSize":8.5,"fill":"#1a1a1a"},"encoding":{"text":{"field":"cell"}}},
{"transform":[{"filter":"datum.p2&&indexof(['WM115','MEL-JUSO','MALME-3M'],datum.cell)>=0"},{"calculate":"[0,1,2,3]","as":"k"},{"flatten":["k"]},{"calculate":"datum.cell+datum.drug","as":"bid"},{"calculate":"'#d9d9d9'","as":"shade"},{"calculate":"datum.pl+24.53*(datum.off+4.2*[0,1,1,0][datum.k])","as":"px"},{"calculate":"datum.pt-17*[1,1,0,0][datum.k]","as":"py"}],
"mark":{"type":"line","interpolate":"linear-closed","strokeWidth":0.1},"encoding":{"detail":{"field":"bid"},"order":{"field":"k"},"fill":{"field":"shade","type":"nominal","scale":null},"stroke":{"field":"shade","type":"nominal","scale":null}}},
{"transform":[{"filter":"datum.p2&&indexof(['WM115','MEL-JUSO','MALME-3M'],datum.cell)>=0"},{"calculate":"datum.pl+24.53*(datum.off+2.1)","as":"px"},{"calculate":"datum.pt-8.5","as":"py"}],
"mark":{"type":"text","align":"center","baseline":"middle","fontSize":8.5,"fill":"#1a1a1a"},"encoding":{"text":{"field":"drug"}}},
{"transform":[{"filter":"!datum.isa&&datum.cell=='WM115'&&datum.ti==0&&datum.off==0"},{"calculate":"[0,1,2,3]","as":"k"},{"flatten":["k"]},{"calculate":"['#F8766D','#A3A500','#00BF7D','#00B0F6'][datum.ci]","as":"shade"},{"calculate":"658+30*[0,0,1,1][datum.ci]+15*[0,1,1,0][datum.k]","as":"px"},{"calculate":"820+16*[0,1,0,1][datum.ci]+15*[0,0,1,1][datum.k]","as":"py"}],
"mark":{"type":"line","interpolate":"linear-closed","strokeWidth":0.1},"encoding":{"detail":{"field":"conc"},"order":{"field":"k"},"fill":{"field":"shade","type":"nominal","scale":null},"stroke":{"field":"shade","type":"nominal","scale":null}}},
{"transform":[{"filter":"!datum.isa&&datum.cell=='WM115'&&datum.ti==0&&datum.off==0"},{"calculate":"676+30*[0,0,1,1][datum.ci]","as":"px"},{"calculate":"828+16*[0,1,0,1][datum.ci]","as":"py"}],
"mark":{"type":"text","align":"left","baseline":"middle","fontSize":8,"fill":"#111111"},"encoding":{"text":{"field":"conc"}}},
{"transform":[{"filter":"datum.p1&&datum.cell=='WM115'"},{"calculate":"691","as":"px"},{"calculate":"813","as":"py"},{"calculate":"'Conc (nM)'","as":"lab"}],
"mark":{"type":"text","align":"center","baseline":"middle","fontSize":10,"fill":"#111111"},"encoding":{"text":{"field":"lab"}}},
{"transform":[{"filter":"datum.p1&&datum.cell=='WM115'"},{"calculate":"413","as":"px"},{"calculate":"1038","as":"py"},{"calculate":"'Time'","as":"lab"}],
"mark":{"type":"text","align":"center","baseline":"middle","fontSize":9.5,"fill":"#111111"},"encoding":{"text":{"field":"lab"}}},
{"transform":[{"filter":"datum.p1&&datum.cell=='WM115'"},{"calculate":"8","as":"px"},{"calculate":"913","as":"py"},{"calculate":"'mfi'","as":"lab"}],
"mark":{"type":"text","angle":270,"align":"center","baseline":"middle","fontSize":9.5,"fill":"#111111"},"encoding":{"text":{"field":"lab"}}},
{"transform":[{"filter":"datum.p1&&datum.cell=='WM115'"},{"calculate":"1","as":"px"},{"calculate":"801","as":"py"},{"calculate":"'B'","as":"lab"}],
"mark":{"type":"text","align":"left","baseline":"alphabetic","fontSize":21,"fill":"#111111"},"encoding":{"text":{"field":"lab"}}}
]}
